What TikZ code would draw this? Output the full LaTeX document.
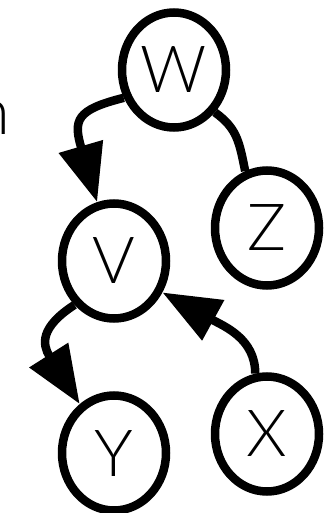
\documentclass[tikz,border=0pt]{standalone}
\usepackage{fontspec}
\setmainfont{Lato}[UprightFont={* Light}]
\usepackage{tikz}
\usetikzlibrary{arrows.meta,shapes.geometric}
\definecolor{dagBlack}{HTML}{000000}
\tikzset{
  var/.style={ellipse, draw=dagBlack, line width=8.5pt, fill=white, minimum width=104pt, minimum height=115pt, inner sep=0pt, font=\fontsize{65}{70}\selectfont},
  link/.style={draw=dagBlack, line width=8.5pt},
  arrow/.style={link, -{Triangle[length=58pt,width=44pt]}}
}
\begin{document}
\begin{tikzpicture}[x=1pt,y=-1pt]
\useasboundingbox (0,0) rectangle (330,513);

\node[anchor=base east, inner sep=0pt, font=\fontsize{65}{70}\selectfont] (cut) at (10,135) {n};

\node[var] (W) at (174,70) {W};
\node[var] (Z) at (267,228) {Z};
\node[var] (V) at (114,261) {V};
\node[var] (Y) at (114,453) {Y};
\node[var] (X) at (267,434) {X};

\draw[arrow] (W.209) .. controls +(-48,12) and +(-24,-82) .. (V.106);
\draw[link] (W.-46) .. controls +(22,16) and +(-6,-30) .. (Z.111);
\draw[arrow] (V.228) .. controls +(-34,22) and +(-38,-60) .. (Y.125);
\draw[arrow] (X.101) .. controls +(0,-35) and +(62,34) .. (V.-33);

\end{tikzpicture}
\end{document}
